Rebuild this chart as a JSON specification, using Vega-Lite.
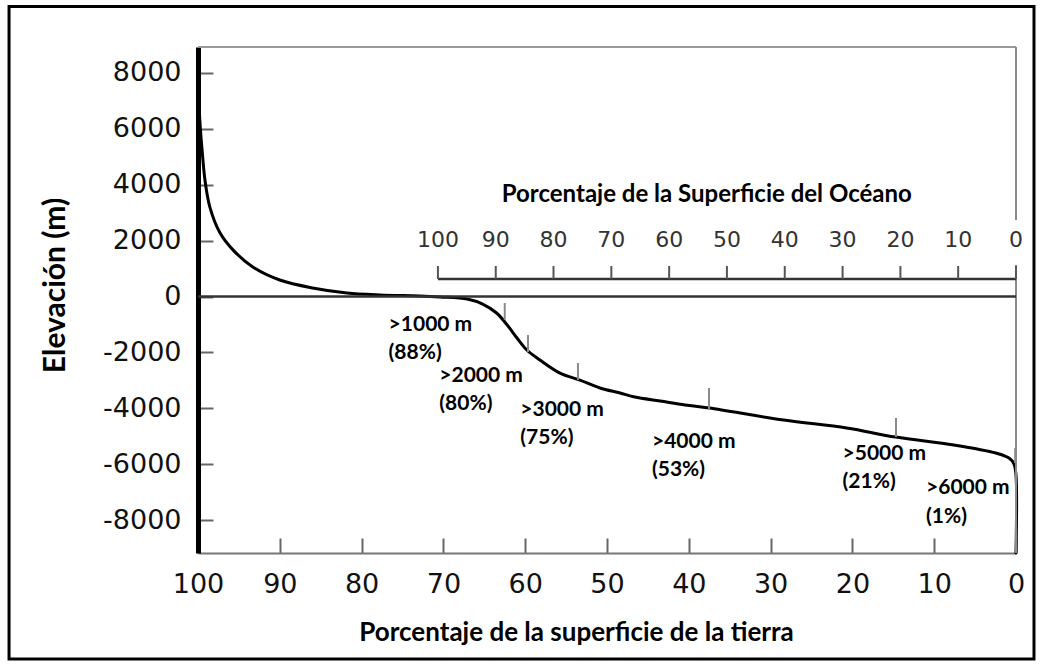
{
  "$schema": "https://vega.github.io/schema/vega-lite/v6.json",
  "width": 818,
  "height": 506,
  "autosize": {"type": "none"},
  "padding": {"left": 198, "top": 47, "right": 27, "bottom": 115},
  "background": "white",
  "config": {"view": {"stroke": null}},
  "datasets": {
    "curve": [
      {"i": 1, "land": 100, "elev": 8848},
      {"i": 2, "land": 99.9, "elev": 7030},
      {"i": 3, "land": 99.7, "elev": 5960},
      {"i": 4, "land": 99.5, "elev": 5240},
      {"i": 5, "land": 99.15, "elev": 4170},
      {"i": 6, "land": 98.55, "elev": 3200},
      {"i": 7, "land": 97.3, "elev": 2270},
      {"i": 8, "land": 95.7, "elev": 1660},
      {"i": 9, "land": 93.3, "elev": 1055},
      {"i": 10, "land": 90.0, "elev": 590},
      {"i": 11, "land": 86.0, "elev": 305},
      {"i": 12, "land": 81.8, "elev": 125},
      {"i": 13, "land": 77.75, "elev": 55},
      {"i": 14, "land": 72.9, "elev": 18},
      {"i": 15, "land": 70.4, "elev": -18},
      {"i": 16, "land": 67.1, "elev": -90},
      {"i": 17, "land": 65.2, "elev": -270},
      {"i": 18, "land": 63.5, "elev": -590},
      {"i": 19, "land": 62.2, "elev": -1020},
      {"i": 20, "land": 61.0, "elev": -1485},
      {"i": 21, "land": 59.8, "elev": -1915},
      {"i": 22, "land": 58.2, "elev": -2270},
      {"i": 23, "land": 55.75, "elev": -2740},
      {"i": 24, "land": 53.3, "elev": -2990},
      {"i": 25, "land": 50.86, "elev": -3275},
      {"i": 26, "land": 48.4, "elev": -3453},
      {"i": 27, "land": 46.6, "elev": -3596},
      {"i": 28, "land": 43.5, "elev": -3739},
      {"i": 29, "land": 40.46, "elev": -3882},
      {"i": 30, "land": 37.5, "elev": -3990},
      {"i": 31, "land": 28.4, "elev": -4420},
      {"i": 32, "land": 20.7, "elev": -4705},
      {"i": 33, "land": 14.7, "elev": -5030},
      {"i": 34, "land": 7.6, "elev": -5310},
      {"i": 35, "land": 2.45, "elev": -5600},
      {"i": 36, "land": 0.85, "elev": -5780},
      {"i": 37, "land": 0.25, "elev": -5990},
      {"i": 38, "land": 0, "elev": -6390},
      {"i": 39, "land": 0, "elev": -9177}
    ],
    "depthTicks": [
      {"land": 62.5, "top": -233, "bottom": -841},
      {"land": 59.66, "top": -1378, "bottom": -1986},
      {"land": 53.55, "top": -2379, "bottom": -2988},
      {"land": 37.53, "top": -3274, "bottom": -4061},
      {"land": 14.67, "top": -4347, "bottom": -5027},
      {"land": 0.1, "top": -5421, "bottom": -5958}
    ],
    "notes": [
      {"land": 76.7, "elev": -1020, "text": ">1000 m"},
      {"land": 76.7, "elev": -2022, "text": "(88%)"},
      {"land": 70.5, "elev": -2845, "text": ">2000 m"},
      {"land": 70.5, "elev": -3846, "text": "(80%)"},
      {"land": 60.6, "elev": -4061, "text": ">3000 m"},
      {"land": 60.6, "elev": -5063, "text": "(75%)"},
      {"land": 44.5, "elev": -5206, "text": ">4000 m"},
      {"land": 44.5, "elev": -6208, "text": "(53%)"},
      {"land": 21.2, "elev": -5635, "text": ">5000 m"},
      {"land": 21.2, "elev": -6637, "text": "(21%)"},
      {"land": 11.0, "elev": -6852, "text": ">6000 m"},
      {"land": 11.0, "elev": -7889, "text": "(1%)"}
    ],
    "oceanTicks": [
      {"ocean": 100, "land": 70.67}, {"ocean": 90, "land": 63.6}, {"ocean": 80, "land": 56.54},
      {"ocean": 70, "land": 49.47}, {"ocean": 60, "land": 42.4}, {"ocean": 50, "land": 35.34},
      {"ocean": 40, "land": 28.27}, {"ocean": 30, "land": 21.2}, {"ocean": 20, "land": 14.13},
      {"ocean": 10, "land": 7.07}, {"ocean": 0, "land": 0}
    ],
    "blank": [{}]
  },
  "layer": [
    {
      "data": {"name": "curve"},
      "mark": {"type": "line", "stroke": "black", "strokeWidth": 3, "strokeJoin": "round", "strokeCap": "round", "interpolate": "catmull-rom"},
      "encoding": {
        "x": {
          "field": "land", "type": "quantitative",
          "scale": {"domain": [100, 0], "nice": false, "zero": false},
          "axis": {
            "values": [100, 90, 80, 70, 60, 50, 40, 30, 20, 10, 0],
            "format": "d",
            "grid": false,
            "tickSize": -15,
            "tickColor": "#666666",
            "tickWidth": 2,
            "domainColor": "#777777",
            "domainWidth": 2,
            "labelFont": "DejaVu Sans",
            "labelFontSize": 27,
            "labelColor": "#111111",
            "labelPadding": 33,
            "labelFlush": false,
            "title": "Porcentaje de la superficie de la tierra",
            "titleFont": "Lato",
            "titleFontWeight": "bold",
            "titleFontSize": 26,
            "titleColor": "black",
            "titleX": 378,
            "titleY": 79,
            "titleBaseline": "middle"
          }
        },
        "y": {
          "field": "elev", "type": "quantitative",
          "scale": {"domain": [-9177, 8927], "nice": false, "zero": false},
          "axis": {
            "values": [-8000, -6000, -4000, -2000, 0, 2000, 4000, 6000, 8000],
            "labelExpr": "datum.value + ''",
            "grid": false,
            "tickSize": -15,
            "tickColor": "#666666",
            "tickWidth": 2,
            "domainColor": "black",
            "domainWidth": 5,
            "labelFont": "DejaVu Sans",
            "labelFontSize": 27,
            "labelColor": "#111111",
            "labelPadding": 32,
            "labelFlush": false,
            "title": "Elevación (m)",
            "titleFont": "Lato",
            "titleFontWeight": "bold",
            "titleFontSize": 30,
            "titleColor": "black",
            "titleAngle": -90,
            "titleX": -143,
            "titleY": 238,
            "titleBaseline": "middle",
            "titleAlign": "center"
          }
        },
        "order": {"field": "i", "type": "quantitative"}
      }
    },
    {
      "data": {"name": "blank"},
      "mark": {"type": "rect", "fillOpacity": 0, "stroke": "black", "strokeWidth": 3},
      "encoding": {
        "x": {"datum": 123.1, "type": "quantitative"},
        "x2": {"datum": -2.2},
        "y": {"datum": 10376, "type": "quantitative"},
        "y2": {"datum": -12970}
      }
    },
    {
      "data": {"name": "blank"},
      "mark": {"type": "rule", "stroke": "#9a9a9a", "strokeWidth": 2},
      "encoding": {
        "x": {"datum": 100, "type": "quantitative"},
        "x2": {"datum": 0},
        "y": {"datum": 8927, "type": "quantitative"}
      }
    },
    {
      "data": {"name": "blank"},
      "mark": {"type": "rule", "stroke": "#8a8a8a", "strokeWidth": 2},
      "encoding": {
        "x": {"datum": 0, "type": "quantitative"},
        "y": {"datum": 8927, "type": "quantitative"},
        "y2": {"datum": 2737}
      }
    },
    {
      "data": {"name": "blank"},
      "mark": {"type": "rule", "stroke": "#8a8a8a", "strokeWidth": 2},
      "encoding": {
        "x": {"datum": 0, "type": "quantitative"},
        "y": {"datum": 1127, "type": "quantitative"},
        "y2": {"datum": -9177}
      }
    },
    {
      "data": {"name": "blank"},
      "mark": {"type": "rule", "stroke": "#333333", "strokeWidth": 2.5},
      "encoding": {
        "x": {"datum": 100, "type": "quantitative"},
        "x2": {"datum": 0},
        "y": {"datum": 0, "type": "quantitative"}
      }
    },
    {
      "data": {"name": "depthTicks"},
      "mark": {"type": "rule", "stroke": "#8a8a8a", "strokeWidth": 2},
      "encoding": {
        "x": {"field": "land", "type": "quantitative"},
        "y": {"field": "top", "type": "quantitative"},
        "y2": {"field": "bottom"}
      }
    },
    {
      "data": {"name": "notes"},
      "mark": {"type": "text", "align": "left", "baseline": "middle", "font": "Lato", "fontWeight": "bold", "fontSize": 21, "color": "black"},
      "encoding": {
        "x": {"field": "land", "type": "quantitative"},
        "y": {"field": "elev", "type": "quantitative"},
        "text": {"field": "text"}
      }
    },
    {
      "data": {"name": "blank"},
      "mark": {"type": "rule", "stroke": "#333333", "strokeWidth": 2.5},
      "encoding": {
        "x": {"datum": 70.67, "type": "quantitative"},
        "x2": {"datum": 0},
        "y": {"datum": 626, "type": "quantitative"}
      }
    },
    {
      "data": {"name": "oceanTicks"},
      "mark": {"type": "rule", "stroke": "#555555", "strokeWidth": 2},
      "encoding": {
        "x": {"field": "land", "type": "quantitative"},
        "y": {"datum": 626, "type": "quantitative"},
        "y2": {"datum": 1091}
      }
    },
    {
      "data": {"name": "oceanTicks"},
      "mark": {"type": "text", "align": "center", "baseline": "middle", "font": "DejaVu Sans", "fontSize": 22, "color": "#333333"},
      "encoding": {
        "x": {"field": "land", "type": "quantitative"},
        "y": {"datum": 2022, "type": "quantitative"},
        "text": {"field": "ocean", "type": "quantitative", "format": "d"}
      }
    },
    {
      "data": {"name": "blank"},
      "mark": {"type": "text", "align": "center", "baseline": "middle", "font": "Lato", "fontWeight": "bold", "fontSize": 24, "color": "black", "text": "Porcentaje de la Superficie del Océano"},
      "encoding": {
        "x": {"datum": 37.8, "type": "quantitative"},
        "y": {"datum": 3632, "type": "quantitative"}
      }
    }
  ]
}
